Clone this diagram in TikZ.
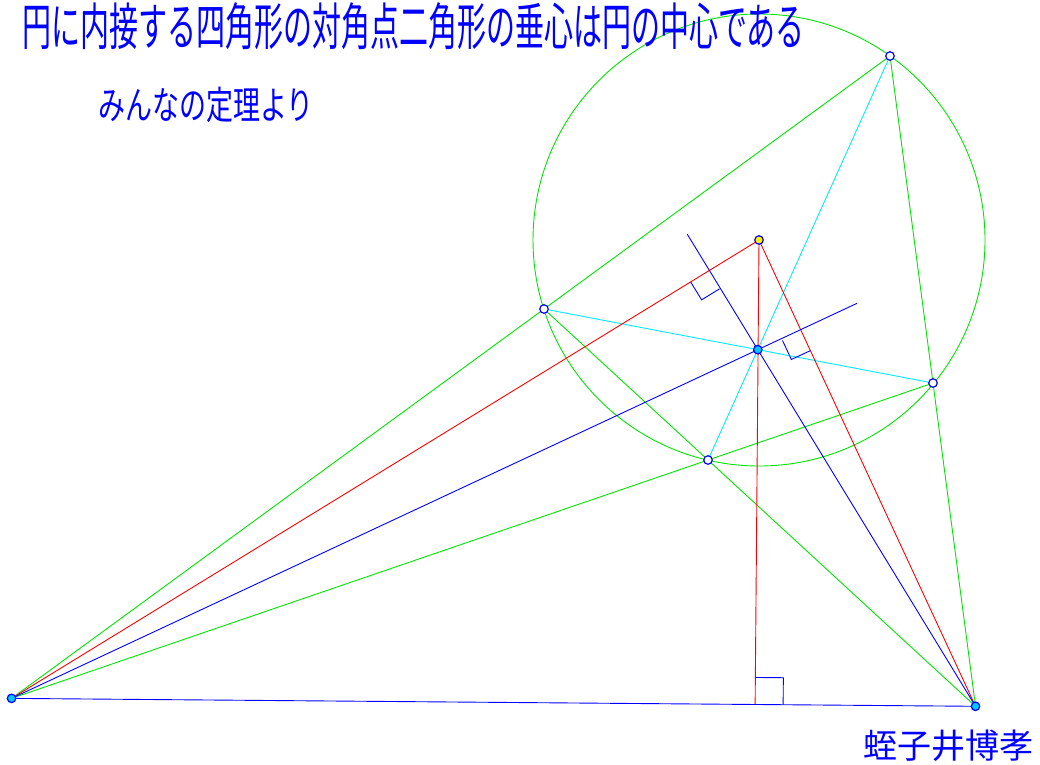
\documentclass[tikz,border=0pt]{standalone}
\usepackage{fontspec}
\newfontfamily\jpfont{Noto Sans CJK JP}
\usetikzlibrary{calc}
\definecolor{ggreen}{RGB}{0,230,0}
\definecolor{gcyan}{RGB}{0,235,255}
\definecolor{gblue}{RGB}{0,0,255}
\definecolor{gred}{RGB}{255,0,0}
\definecolor{ptcyan}{RGB}{0,200,255}
\begin{document}
\begin{tikzpicture}[x=1pt, y=-1pt,
  grn/.style={draw=ggreen, line width=.9pt},
  cyn/.style={draw=gcyan, line width=.9pt},
  rd/.style={draw=gred, line width=.9pt},
  bl/.style={draw=gblue, line width=.9pt},
  pt/.style={circle, draw=gblue, line width=1.2pt, inner sep=0pt, minimum size=8.5pt, fill=white},
  txt/.style={inner sep=0pt, text=gblue, font=\jpfont}]
\useasboundingbox (0,0) rectangle (1040,764);
\coordinate (O) at (759,240);
\coordinate (A) at (890,56);
\coordinate (B) at (544,309);
\coordinate (C) at (708,460);
\coordinate (D) at (933,383);
\coordinate (L) at (intersection cs:first line={(A)--(B)}, second line={(D)--(C)});
\coordinate (R) at (intersection cs:first line={(A)--(D)}, second line={(B)--(C)});
\coordinate (H) at (intersection cs:first line={(A)--(C)}, second line={(B)--(D)});
\coordinate (T) at (O);
% feet of the altitudes
\coordinate (FT) at ($(L)!(T)!(R)$);
\coordinate (FR) at ($(T)!(R)!(L)$);
\coordinate (FL) at ($(T)!(L)!(R)$);
\coordinate (EL) at ($(L)!1.133!(H)$);
\coordinate (ER) at ($(R)!1.324!(H)$);
% right angle corners
\coordinate (FT1) at ($(FT)!27pt!(T)$);
\coordinate (FT2) at ($(FT)!28pt!(R)$);
\coordinate (FR1) at ($(FR)!21pt!(L)$);
\coordinate (FR2) at ($(FR)!21pt!(R)$);
\coordinate (FL1) at ($(FL)!21pt!(L)$);
\coordinate (FL2) at ($(FL)!21pt!(R)$);
% circle and quadrilateral
\draw[grn] (O) circle (226);
\draw[grn] (L) -- (A);
\draw[grn] (L) -- (D);
\draw[grn] (R) -- (A);
\draw[grn] (R) -- (B);
\draw[cyn] (A) -- (C);
\draw[cyn] (B) -- (D);
% triangle
\draw[rd] (T) -- (L);
\draw[rd] (T) -- (R);
\draw[rd] (T) -- (FT);
\draw[bl] (L) -- (R);
\draw[bl] (L) -- (EL);
\draw[bl] (R) -- (ER);
% right angles
\draw[bl] (FT1) -- ($(FT1)+(FT2)-(FT)$) -- (FT2);
\draw[bl] (FR1) -- ($(FR1)+(FR2)-(FR)$) -- (FR2);
\draw[bl] (FL1) -- ($(FL1)+(FL2)-(FL)$) -- (FL2);
% points
\node[pt] (a) at (A) {};
\node[pt] (b) at (B) {};
\node[pt] (c) at (C) {};
\node[pt] (d) at (D) {};
\node[pt, fill=ptcyan] (l) at (L) {};
\node[pt, fill=ptcyan] (r) at (R) {};
\node[pt, fill=ptcyan] (h) at (H) {};
\node[pt, fill=yellow] (t) at (T) {};
% texts
\node[txt, anchor=west, font=\jpfont\fontsize{29}{29}\selectfont] (title) at (22,26)
  {\scalebox{1}[1.75]{円に内接する四角形の対角点二角形の垂心は円の中心である}};
\node[txt, anchor=west, font=\jpfont\fontsize{27}{27}\selectfont] (sub) at (98,105)
  {\scalebox{1}[1.43]{みんなの定理より}};
\node[txt, anchor=west, font=\jpfont\fontsize{34}{34}\selectfont] (auth) at (863,746)
  {蛭子井博孝};
\end{tikzpicture}
\end{document}
